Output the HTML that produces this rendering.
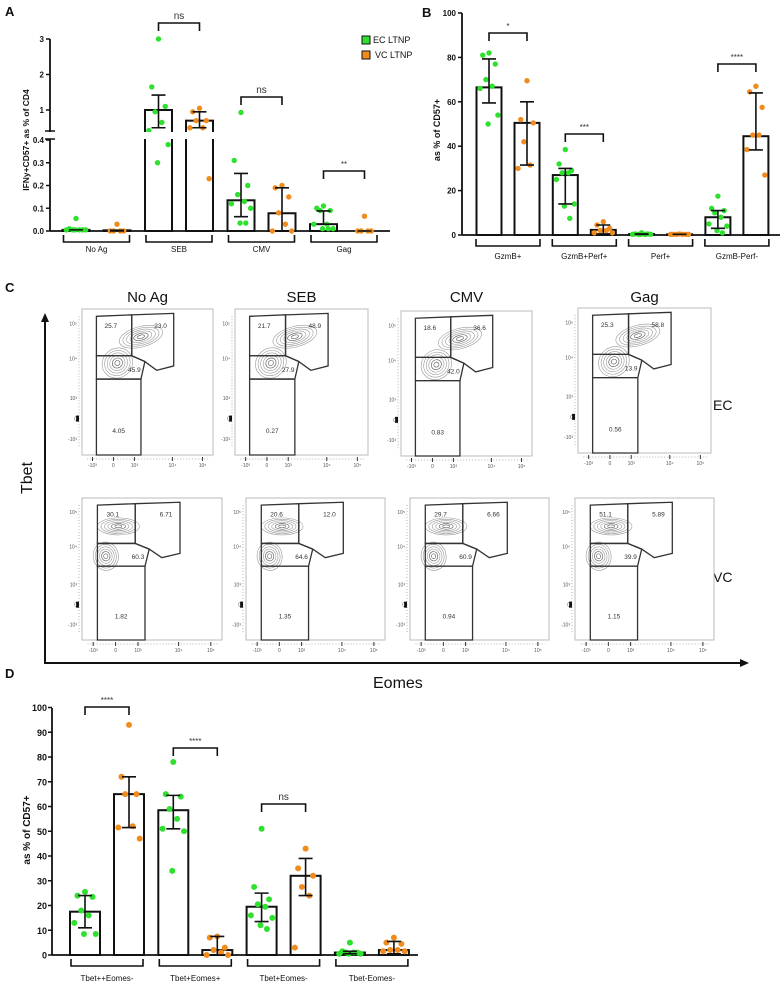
<!DOCTYPE html>
<html><head><meta charset="utf-8">
<style>
html,body{margin:0;padding:0;background:#fff;}
svg{display:block;font-family:"Liberation Sans",Arial,sans-serif;}
</style></head>
<body>
<svg id="fig" width="784" height="991" viewBox="0 0 784 991" xmlns="http://www.w3.org/2000/svg">
<rect x="0" y="0" width="784" height="991" fill="#fff"/>
</svg>
<script>
// ---------- Panel A data ----------
const aCategories = ["No Ag","SEB","CMV","Gag"];
const aEcPoints = [[0.055,0.01,0.005,0.005,0.005,0.005,0.005,0.005],[3.0,1.65,1.1,0.95,0.65,0.42,0.38,0.3],[0.93,0.31,0.2,0.16,0.13,0.12,0.1,0.035,0.035],[0.11,0.1,0.09,0.09,0.03,0.03,0.01,0.01,0.01]];
const aVcPoints = [[0.03,0,0,0,0],[1.05,0.95,0.7,0.7,0.5,0.5,0.23],[0.2,0.19,0.15,0.08,0.03,0,0],[0.065,0,0,0,0]];
const aEcBars = [0.005,1.0,0.135,0.03];
const aVcBars = [0.003,0.7,0.078,0.0];
const aEcErrLo = [0.005,0.5,0.063,0.03];
const aEcErrHi = [0.005,1.42,0.253,0.088];
const aVcErrLo = [0.0,0.5,0.0,0.0];
const aVcErrHi = [0.003,0.95,0.19,0.0];
const aTicksLower = [0,0.1,0.2,0.3,0.4];
const aTickLabelsLower = ["0.0","0.1","0.2","0.3","0.4"];
const aTicksUpper = [1,2,3];
const aSig = [["SEB","ns"],["CMV","ns"],["Gag","**"]];

// ---------- Panel B data ----------
const bCategories = ["GzmB+","GzmB+Perf+","Perf+","GzmB-Perf-"];
const bEcPoints = [[82,81,77,70,67,66,54,50],[38.5,32,29,28,28,25,14,13,7.5],[1,0.5,0.5,0.3,0.3,0.3,0.3,0.3,0.3],[17.5,12,11,10,8,5,4,2,1]];
const bVcPoints = [[69.5,52,50.5,42,31.5,30],[6,4.5,3,2,2,1,1],[0.5,0.3,0.3,0.3,0.3,0.3,0.3],[67,64.5,57.5,45,45,38.5,27]];
const bEcBars = [66.5,27,0.4,8];
const bVcBars = [50.5,2.3,0.3,44.5];
const bEcErrLo = [59.5,14,0.3,3];
const bEcErrHi = [79.3,30,0.5,11];
const bVcErrLo = [31.5,0.5,0.3,38.3];
const bVcErrHi = [60,4.5,0.3,64];
const bTicks = [0,20,40,60,80,100];
const bSig = [["GzmB+","*"],["GzmB+Perf+","***"],["GzmB-Perf-","****"]];

// ---------- Panel D data ----------
const dCategories = ["Tbet++Eomes-","Tbet+Eomes+","Tbet+Eomes-","Tbet-Eomes-"];
const dEcPoints = [[25.5,24,23.5,18,16,13,8.5,8.5],[78,65,64,59,55,51,50,34],[51,27.5,22.5,20.5,19.5,16,15,12,10.5],[5,1.5,1,1,1,0.5,0.5,0.5]];
const dVcPoints = [[93,72,65,65,52,51.5,47],[7.5,7,3,2,1,0,0],[43,35,32,27.5,24,3],[7,5,4.5,2,2,1.5,1.5]];
const dEcBars = [17.5,58.5,19.5,1];
const dVcBars = [65,2,32,2];
const dEcErrLo = [11,51,13.5,0.5];
const dEcErrHi = [24,64.5,25,1.5];
const dVcErrLo = [51.5,0,24,0.5];
const dVcErrHi = [72,7.5,39,5.5];
const dTicks = [0,10,20,30,40,50,60,70,80,90,100];
const dSig = [["Tbet++Eomes-","****"],["Tbet+Eomes+","****"],["Tbet+Eomes-","ns"]];

// ---------- Flow data ----------
const flowTitles = ["No Ag","SEB","CMV","Gag"];
const flowEcValues = [["25.7","23.0","45.9","4.05"],["21.7","48.9","27.9","0.27"],["18.6","36.6","42.0","0.83"],["25.3","58.8","13.9","0.56"]];
const flowVcValues = [["30.1","6.71","60.3","1.82"],["20.6","12.0","64.6","1.35"],["29.7","6.66","60.9","0.94"],["51.1","5.89","39.9","1.15"]];

const NS = "http://www.w3.org/2000/svg";
const svg = document.getElementById('fig');
const GREEN = "#2fe02f", ORANGE = "#f08c1e";
function mk(tag, attrs, parent){
  const e = document.createElementNS(NS, tag);
  for (const k in attrs) e.setAttribute(k, attrs[k]);
  (parent || svg).appendChild(e);
  return e;
}
function txt(x,y,s,size,opts){
  const t = mk('text', Object.assign({x:x,y:y,'font-size':size,fill:'#111'}, opts||{}));
  t.textContent = s;
  return t;
}
const jitter = [0,-7,7,-3.5,3.5,-10,10,-1,5];

function barChart(cfg){
  const g = mk('g', {});
  
  
  // axes
  const ya = mk('line', {x1:cfg.axX,y1:cfg.axTop,x2:cfg.axX,y2:cfg.base,stroke:'#111','stroke-width':1.8}, g);
  
  
  const xa = mk('line', {x1:cfg.axX,y1:cfg.base,x2:cfg.axRight,y2:cfg.base,stroke:'#111','stroke-width':1.8}, g);
  
  
  cfg.categories.forEach((cat,i)=>{
    const ec = cfg.ecX(i), vc = ec + cfg.pair;
    [[ec,cfg.ecBars,cfg.ecPts,cfg.ecLo,cfg.ecHi,GREEN,'ec'],[vc,cfg.vcBars,cfg.vcPts,cfg.vcLo,cfg.vcHi,ORANGE,'vc']].forEach(s=>{
      const cx=s[0], v=s[1][i], yv=cfg.y(v);
      const bar = mk('rect', {x:cx-cfg.bw/2,y:yv,width:cfg.bw,height:Math.max(0,cfg.base-yv),fill:'#fff',stroke:'#111','stroke-width':2}, g);
      
      
      s[2][i].forEach((p,j)=>{
        const c = mk('circle', {cx:cx+jitter[j%jitter.length]*cfg.bw/28,cy:cfg.y(p),r:cfg.r,fill:s[5]}, g);
        
        
      });
      const lo=cfg.y(s[3][i]), hi=cfg.y(s[4][i]);
      const eb = mk('path', {d:`M${cx},${lo}V${hi}M${cx-7},${hi}H${cx+7}M${cx-7},${lo}H${cx+7}`,stroke:'#111','stroke-width':1.6,fill:'none'}, g);
      
      
    });
    const gc = ec + cfg.pair/2;
    const br = mk('path', {d:`M${gc-cfg.bh},${cfg.base+4}V${cfg.base+11}H${gc+cfg.bh}V${cfg.base+4}`,stroke:'#111','stroke-width':1.6,fill:'none'}, g);
    
    
    const cl = txt(gc, cfg.base+cfg.labOff, cat, cfg.labSize, {'text-anchor':'middle'});
    
    
  });
  cfg.sig.forEach(sg=>{
    const i = cfg.categories.indexOf(sg[0]);
    const ec = cfg.ecX(i), vc = ec + cfg.pair;
    const top = cfg.sigY[i];
    const p = mk('path', {d:`M${ec},${top+8}V${top}H${vc}V${top+8}`,stroke:'#111','stroke-width':1.6,fill:'none'}, g);
    
    
    const st = txt((ec+vc)/2, top-4, sg[1], sg[1]==='ns'?10:8, {'text-anchor':'middle',fill:'#333'});
    
    
  });
  return g;
}

// ----- Panel A -----
function yA(v){ return v<=0.4 ? 231 - v/0.1*22.75 : 110 - (v-1)*35.5; }
barChart({name:'panel-a-chart',categories:aCategories,ecPts:aEcPoints,vcPts:aVcPoints,ecBars:aEcBars,vcBars:aVcBars,
  ecLo:aEcErrLo,ecHi:aEcErrHi,vcLo:aVcErrLo,vcHi:aVcErrHi,y:yA,axX:50,axTop:39,base:231,axRight:390,
  ecX:i=>76+i*82.5,pair:41,bw:27,r:2.7,bh:33,labOff:21,labSize:8,sig:aSig,sigY:[0,23,97,171]});
// break gap
const gap = mk('rect',{x:44,y:132,width:300,height:7,fill:'#fff'});


[131,139].forEach(yy=>{
  const l = mk('line',{x1:45,y1:yy,x2:55,y2:yy,stroke:'#111','stroke-width':1.5});
  
  
});
aTicksLower.forEach((v,i)=>{
  const l = mk('line',{x1:46,y1:yA(v),x2:50,y2:yA(v),stroke:'#111','stroke-width':1.5});
  
  
  const t = txt(44, yA(v)+3, aTickLabelsLower[i], 8, {'text-anchor':'end','font-weight':'bold'});
  
  
});
aTicksUpper.forEach(v=>{
  const l = mk('line',{x1:46,y1:yA(v),x2:50,y2:yA(v),stroke:'#111','stroke-width':1.5});
  
  
  const t = txt(44, yA(v)+3, String(v), 8, {'text-anchor':'end','font-weight':'bold'});
  
  
});
const aTitle = txt(0,0,'IFNy+CD57+ as % of CD4',8.5,{'font-weight':'bold','text-anchor':'middle',transform:'translate(29,140) rotate(-90)'});


const lg1 = mk('rect',{x:362,y:36,width:8,height:8,fill:GREEN,stroke:'#111','stroke-width':1});


const lt1 = txt(373,43,'EC LTNP',9);


const lg2 = mk('rect',{x:362,y:51,width:8,height:8,fill:ORANGE,stroke:'#111','stroke-width':1});


const lt2 = txt(375,58,'VC LTNP',9);



// ----- Panel B -----
function yB(v){ return 235 - v*2.22; }
barChart({name:'panel-b-chart',categories:bCategories,ecPts:bEcPoints,vcPts:bVcPoints,ecBars:bEcBars,vcBars:bVcBars,
  ecLo:bEcErrLo,ecHi:bEcErrHi,vcLo:bVcErrLo,vcHi:bVcErrHi,y:yB,axX:462,axTop:13,base:235,axRight:780,
  ecX:i=>489+i*76.3,pair:38,bw:25,r:2.7,bh:32,labOff:24,labSize:8,sig:bSig,sigY:[33,134,0,64]});
bTicks.forEach(v=>{
  const l = mk('line',{x1:458,y1:yB(v),x2:462,y2:yB(v),stroke:'#111','stroke-width':1.5});
  
  
  const t = txt(456, yB(v)+3, String(v), 8, {'text-anchor':'end','font-weight':'bold'});
  
  
});
const bTitle = txt(0,0,'as % of CD57+',9,{'font-weight':'bold','text-anchor':'middle',transform:'translate(440,130) rotate(-90)'});



// ----- Panel D -----
function yD(v){ return 955 - v*2.475; }
barChart({name:'panel-d-chart',categories:dCategories,ecPts:dEcPoints,vcPts:dVcPoints,ecBars:dEcBars,vcBars:dVcBars,
  ecLo:dEcErrLo,ecHi:dEcErrHi,vcLo:dVcErrLo,vcHi:dVcErrHi,y:yD,axX:52,axTop:708,base:955,axRight:418,
  ecX:i=>85+i*88.3,pair:44,bw:30,r:3,bh:36,labOff:26,labSize:8,sig:dSig,sigY:[707,748,804,0]});
dTicks.forEach(v=>{
  const l = mk('line',{x1:48,y1:yD(v),x2:52,y2:yD(v),stroke:'#111','stroke-width':1.5});
  
  
  const t = txt(47, yD(v)+3.5, String(v), 9, {'text-anchor':'end','font-weight':'bold'});
  
  
});
const dTitle = txt(0,0,'as % of CD57+',10,{'font-weight':'bold','text-anchor':'middle',transform:'translate(30,830) rotate(-90)'});



// ----- Panel labels -----
[['A',5,16],['B',422,17],['C',5,292],['D',5,678]].forEach(p=>{
  const t = txt(p[1],p[2],p[0],13,{'font-weight':'bold'});
  
  
});

// ----- Panel C (flow plots) -----
const vArrow = mk('path',{d:'M45,663V320',stroke:'#111','stroke-width':2,fill:'none'});


const vHead = mk('path',{d:'M41,322L45,313L49,322Z',fill:'#111'});


const hArrow = mk('path',{d:'M44,663H742',stroke:'#111','stroke-width':2,fill:'none'});


const hHead = mk('path',{d:'M740,659L749,663L740,667Z',fill:'#111'});


const tb = txt(0,0,'Tbet',16,{'text-anchor':'middle',transform:'translate(32,478) rotate(-90)'});


const eo = txt(373,688,'Eomes',16);


const ecL = txt(713,410,'EC',14);


const vcL = txt(713,582,'VC',14);



const row1Boxes = [[82,309,131,146],[235,309,133,146],[401,311,131,145],[578,308,133,145]];
const row2Boxes = [[82,498,140,142],[246,498,139,142],[410,498,139,142],[575,498,139,142]];
function flow(b, vals, row, title){
  const [bx,by,bw,bh] = b;
  const g = mk('g',{});
  
  
  const X = f=>bx+f*bw, Y = f=>by+f*bh;
  const frame = mk('rect',{x:bx,y:by,width:bw,height:bh,fill:'#fff',stroke:'#bbb','stroke-width':1},g);
  
  
  // contours
  const blobs = row==='ec' ? [[0.45,0.19,0.17,0.07,-15],[0.27,0.37,0.12,0.10,-40]] : [[0.26,0.20,0.15,0.06,0],[0.17,0.41,0.09,0.10,-10]];
  blobs.forEach(bl=>{
    for(let k=1;k<=6;k++){
      const s=k/6;
      const el = mk('ellipse',{cx:X(bl[0]),cy:Y(bl[1]),rx:bl[2]*bw*s,ry:bl[3]*bh*s,fill:'none',stroke:k<3?'#555':'#999','stroke-width':0.6,transform:`rotate(${bl[4]},${X(bl[0])},${Y(bl[1])})`},g);
      
      
    }
  });
  // gates
  const gates = [
    [[0.11,0.05],[0.38,0.04],[0.38,0.32],[0.11,0.32]],
    [[0.38,0.04],[0.70,0.03],[0.70,0.39],[0.57,0.42],[0.48,0.36],[0.38,0.32]],
    [[0.11,0.32],[0.38,0.32],[0.48,0.36],[0.45,0.48],[0.11,0.48]],
    [[0.11,0.48],[0.45,0.48],[0.45,1],[0.11,1]]
  ];
  gates.forEach(gt=>{
    const pg = mk('polygon',{points:gt.map(p=>X(p[0])+','+Y(p[1])).join(' '),fill:'none',stroke:'#333','stroke-width':1.3},g);
    
    
  });
  const pos = [[0.22,0.13],[0.60,0.13],[0.40,0.43],[0.28,0.85]];
  vals.forEach((v,i)=>{
    const t = txt(X(pos[i][0]),Y(pos[i][1]),v,6.5,{'text-anchor':'middle',fill:'#333'});
    
    
  });
  const yl = [['10⁵',0.10],['10⁴',0.34],['10³',0.61],['0',0.75],['-10³',0.89]];
  yl.forEach(l=>{
    const t = txt(bx-5,Y(l[1])+2,l[0],5,{'text-anchor':'end',fill:'#555'});
    
    
  });
  const xl = [['-10³',0.08],['0',0.24],['10³',0.40],['10⁴',0.69],['10⁵',0.92]];
  xl.forEach(l=>{
    const t = txt(X(l[1]),by+bh+12,l[0],5,{'text-anchor':'middle',fill:'#555'});
    
    
    const tk = mk('line',{x1:X(l[1]),y1:by+bh+2,x2:X(l[1]),y2:by+bh+6,stroke:'#333','stroke-width':1},g);
    
    
  });
  const axb = mk('line',{x1:X(0.04),y1:by+bh+4,x2:X(0.97),y2:by+bh+4,stroke:'#666','stroke-width':0.5,'stroke-dasharray':'1 2'},g);
  
  
  const axl = mk('line',{x1:bx-3,y1:Y(0.05),x2:bx-3,y2:Y(0.95),stroke:'#666','stroke-width':0.5,'stroke-dasharray':'1 2'},g);
  
  
  const zb = mk('rect',{x:bx-6,y:Y(0.73),width:3,height:6,fill:'#111'},g);
  
  
}
row1Boxes.forEach((b,i)=>{
  flow(b, flowEcValues[i], 'ec', flowTitles[i]);
  const t = txt(b[0]+b[2]/2, 302, flowTitles[i], 15, {'text-anchor':'middle'});
  
  
});
row2Boxes.forEach((b,i)=>{ flow(b, flowVcValues[i], 'vc', flowTitles[i]); });
</script>
</body></html>
